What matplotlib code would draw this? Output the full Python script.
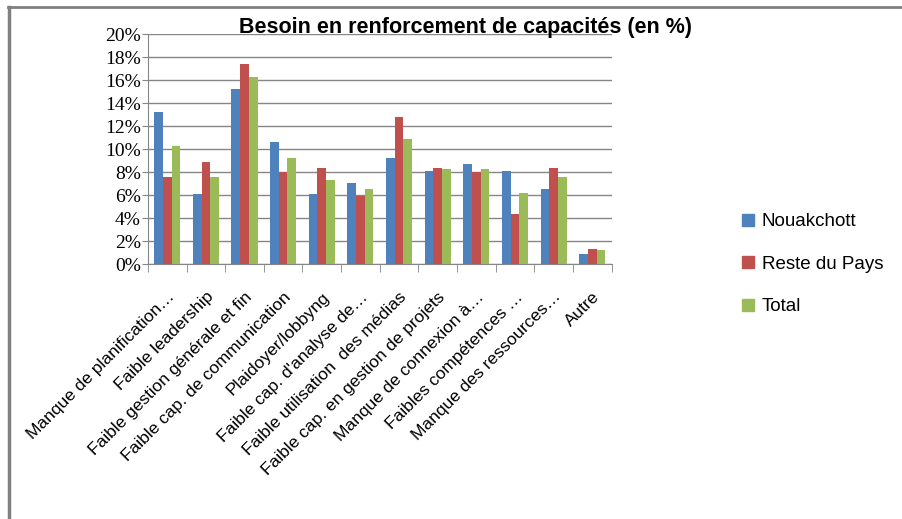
import numpy as np
import matplotlib
matplotlib.use("Agg")
import matplotlib.pyplot as plt
from matplotlib.lines import Line2D

# Data (percent)
categories = [
    "Manque de planification…",
    "Faible leadership",
    "Faible gestion générale et fin",
    "Faible cap. de communication",
    "Plaidoyer/lobbyng",
    "Faible cap. d'analyse de…",
    "Faible utilisation  des médias",
    "Faible cap. en gestion de projets",
    "Manque de connexion à…",
    "Faibles compétences …",
    "Manque des ressources…",
    "Autre",
]
nouakchott = [13.2, 6.1, 15.2, 10.6, 6.1, 7.1, 9.2, 8.1, 8.7, 8.1, 6.5, 0.9]
reste_pays = [7.6, 8.9, 17.4, 8.0, 8.4, 5.9, 12.8, 8.4, 8.0, 4.4, 8.4, 1.3]
total = [10.3, 7.6, 16.3, 9.2, 7.3, 6.5, 10.9, 8.3, 8.3, 6.2, 7.6, 1.2]
series_names = ["Nouakchott", "Reste du Pays", "Total"]
colors = ["#4F81BD", "#C0504D", "#9BBB59"]

fig = plt.figure(figsize=(9.02, 5.19), dpi=100)
ax = fig.add_axes([0.164, 0.491, 0.514, 0.443])

x = np.arange(len(categories))
w = 0.225
for i, (vals, col) in enumerate(zip([nouakchott, reste_pays, total], colors)):
    ax.bar(x + (i - 1) * w, vals, width=w, color=col, zorder=3)

ax.set_xlim(-0.5, len(categories) - 0.5)
ax.set_ylim(0, 20)
ax.set_yticks(range(0, 21, 2))
ax.set_yticklabels([f"{v}%" for v in range(0, 21, 2)],
                   fontfamily="Liberation Serif", fontsize=14)
ax.yaxis.grid(True, color="#868686", linewidth=1, zorder=0)
ax.set_axisbelow(True)

ax.set_xticks(x)
ax.set_xticklabels(categories, rotation=45, ha="right", va="top",
                   rotation_mode="anchor", fontfamily="Liberation Sans", fontsize=12.5)
ax.tick_params(axis="x", which="major", length=0, pad=18)
ax.set_xticks(np.arange(-0.5, len(categories)), minor=True)
ax.tick_params(axis="x", which="minor", length=6, color="#868686")
ax.tick_params(axis="y", length=4, color="#868686", pad=1)

for s in ["top", "right"]:
    ax.spines[s].set_visible(False)
for s in ["left", "bottom"]:
    ax.spines[s].set_color("#868686")

fig.text(0.516, 0.947, "Besoin en renforcement de capacités (en %)",
         ha="center", va="center", fontsize=15.5, fontweight="bold",
         fontfamily="Liberation Sans")

handles = [Line2D([], [], marker="s", linestyle="none", markersize=8,
                  markerfacecolor=c, markeredgecolor=c) for c in colors]
fig.legend(handles, series_names, loc="center left", bbox_to_anchor=(0.802, 0.491),
           frameon=False, labelspacing=1.35, handletextpad=0.35,
           handlelength=0.8, prop={"family": "Liberation Sans", "size": 13.5})

# outer frame (top and left edges)
fig.add_artist(Line2D([0.009, 1.0], [0.986, 0.986], color="#808080", linewidth=2))
fig.add_artist(Line2D([0.010, 0.010], [0.0, 0.986], color="#808080", linewidth=2.5))

fig.savefig("out.png", dpi=100)
